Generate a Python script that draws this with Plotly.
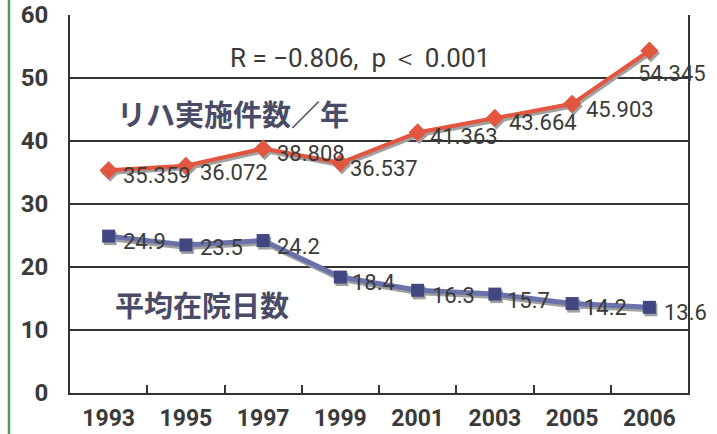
import plotly.graph_objects as go

years = ["1993", "1995", "1997", "1999", "2001", "2003", "2005", "2006"]
rehab = [35.359, 36.072, 38.808, 36.537, 41.363, 43.664, 45.903, 54.345]
stay = [24.9, 23.5, 24.2, 18.4, 16.3, 15.7, 14.2, 13.6]
rehab_labels = ["35.359", "36.072", "38.808", "36.537", "41.363", "43.664", "45.903", "54.345"]
stay_labels = ["24.9", "23.5", "24.2", "18.4", "16.3", "15.7", "14.2", "13.6"]
y_ticks = [0, 10, 20, 30, 40, 50, 60]

# label placement (style only)
rehab_xshift = [12, 12, 12, 8, 10, 12, 12, -13]
rehab_yshift = [-5, -7, -5, -6, -4, -5, -6, -23]
stay_xshift = [12, 12, 12, 10, 12, 10, 10, 13]
stay_yshift = [-5, -3, -6, -5, -5, -6, -4, -5]

NUMFONT = "Roboto, Liberation Sans Narrow, sans-serif"
RED = "#E2553F"
NAVY = "#434781"
NAVY_LINE = "#6B72AA"
SHADOW = "#A0A0A0"

fig = go.Figure()

# shadows: drawn on hidden base axes whose ranges are shifted slightly
fig.add_trace(go.Scatter(x=years, y=rehab, mode="lines+markers", xaxis="x", yaxis="y",
                         line=dict(color=SHADOW, width=4),
                         marker=dict(symbol="diamond", size=14, color=SHADOW),
                         hoverinfo="skip", showlegend=False))
fig.add_trace(go.Scatter(x=years, y=stay, mode="lines+markers", xaxis="x", yaxis="y",
                         line=dict(color=SHADOW, width=5),
                         marker=dict(symbol="square", size=13, color=SHADOW),
                         hoverinfo="skip", showlegend=False))

# main series on the visible overlay axes
fig.add_trace(go.Scatter(x=years, y=rehab, mode="lines+markers", name="リハ実施件数／年",
                         xaxis="x2", yaxis="y2",
                         line=dict(color=RED, width=4),
                         marker=dict(symbol="diamond", size=14, color=RED),
                         showlegend=False))
fig.add_trace(go.Scatter(x=years, y=stay, mode="lines+markers", name="平均在院日数",
                         xaxis="x2", yaxis="y2",
                         line=dict(color=NAVY_LINE, width=5),
                         marker=dict(symbol="square", size=13, color=NAVY),
                         showlegend=False))

annotations = []
for i, (v, t) in enumerate(zip(rehab, rehab_labels)):
    annotations.append(dict(x=i, y=v, xref="x2", yref="y2", text=t, showarrow=False,
                            xanchor="left", yanchor="middle",
                            xshift=rehab_xshift[i], yshift=rehab_yshift[i],
                            font=dict(family=NUMFONT, size=22, color="#3a3a3a")))
for i, (v, t) in enumerate(zip(stay, stay_labels)):
    annotations.append(dict(x=i, y=v, xref="x2", yref="y2", text=t, showarrow=False,
                            xanchor="left", yanchor="middle",
                            xshift=stay_xshift[i], yshift=stay_yshift[i],
                            font=dict(family=NUMFONT, size=22, color="#3a3a3a")))

annotations.append(dict(x=0.469, y=0.885, xref="paper", yref="paper",
                        text="R = −0.806,  p ＜ 0.001", showarrow=False,
                        xanchor="center", yanchor="middle",
                        font=dict(family=NUMFONT, size=26, color="#3a3a3a")))
annotations.append(dict(x=0.073, y=0.741, xref="paper", yref="paper",
                        text="<b>リハ実施件数／年</b>", showarrow=False,
                        xanchor="left", yanchor="middle",
                        font=dict(family="Noto Sans CJK JP", size=29, color="#4a4b66")))
annotations.append(dict(x=0.07, y=0.235, xref="paper", yref="paper",
                        text="<b>平均在院日数</b>", showarrow=False,
                        xanchor="left", yanchor="middle",
                        font=dict(family="Noto Sans CJK JP", size=29, color="#4a4b66")))

fig.update_layout(
    width=717, height=434,
    margin=dict(l=70, r=29, t=15, b=41, autoexpand=False),
    paper_bgcolor="white", plot_bgcolor="white",
    annotations=annotations,
    xaxis=dict(type="category", range=[-0.52, 7.48], visible=False, showgrid=False,
               automargin=False),
    yaxis=dict(range=[0.4, 60.4], visible=False, showgrid=False, zeroline=False,
               automargin=False),
    xaxis2=dict(type="category", range=[-0.5, 7.5], overlaying="x", anchor="y2",
                showline=True, linecolor="#333333", automargin=False,
                linewidth=2, ticks="inside", tickson="boundaries", ticklen=8,
                tickcolor="#333333", tickwidth=1.5, showgrid=False,
                tickfont=dict(family=NUMFONT, size=23, color="#3a3a3a", weight="bold"),
                ticklabelstandoff=3),
    yaxis2=dict(range=[0, 60], tickvals=y_ticks, overlaying="y", anchor="x2",
                showline=True, mirror=True, automargin=False,
                linecolor="#333333", linewidth=2, showgrid=True, gridcolor="#333333",
                gridwidth=1.5, ticks="", zeroline=False,
                tickfont=dict(family=NUMFONT, size=24, color="#3a3a3a", weight="bold"),
                ticklabelstandoff=15),
    shapes=[dict(type="line", xref="paper", yref="paper", x0=-0.0987, x1=-0.0987,
                 y0=-0.2, y1=1.1, line=dict(color="#4f9a5a", width=2.5))],
)

fig.write_html("out.html")
